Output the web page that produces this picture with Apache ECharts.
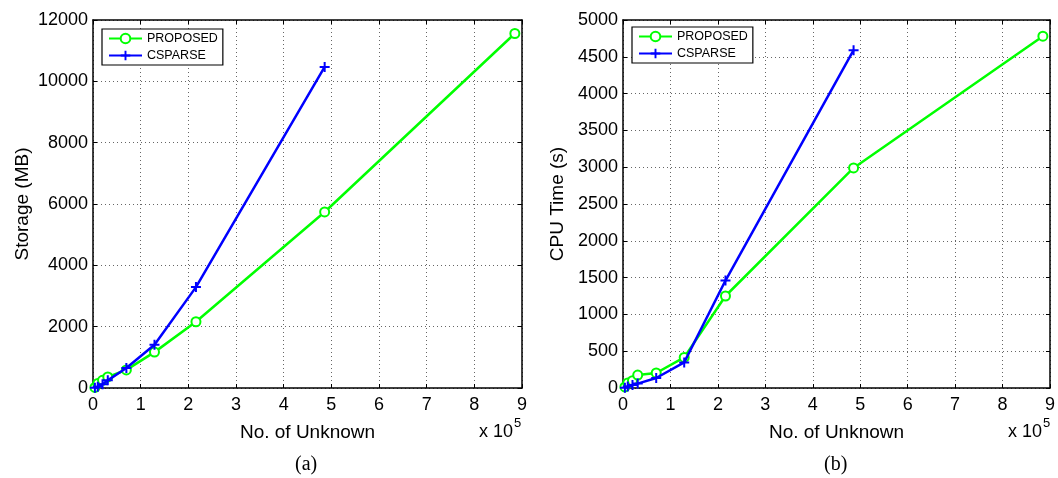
<!DOCTYPE html>
<html>
<head>
<meta charset="utf-8">
<script src="https://cdn.jsdelivr.net/npm/echarts@6/dist/echarts.min.js"></script>
<style>
html,body{margin:0;padding:0;background:#fff;}
#chart{width:1058px;height:478px;}
</style>
</head>
<body>
<div id="chart"></div>
<script>
// Number of unknowns (x 10^5)
const xUnknown = [0.04, 0.1, 0.2, 0.31, 0.7, 1.29, 2.16, 4.86, 8.85];
// Storage (MB)
const storageProposed = [20, 150, 250, 360, 590, 1170, 2160, 5740, 11560];
const storageCsparse  = [10, 40, 120, 250, 650, 1410, 3290, 10470];
// CPU time (s)
const cpuProposed = [14, 68, 100, 176, 204, 416, 1250, 2990, 4780];
const cpuCsparse  = [5, 20, 40, 60, 136, 348, 1460, 4590];
const xTicks = [0,1,2,3,4,5,6,7,8,9];
const seriesNames = ['PROPOSED', 'CSPARSE'];

const FONT = 'Liberation Sans, Arial, Helvetica, sans-serif';
const SERIF = 'Liberation Serif, Times New Roman, serif';
const GREEN = '#00ff00', BLUE = '#0000ff';
const PLUS = 'path://M4,0 L6,0 L6,4 L10,4 L10,6 L6,6 L6,10 L4,10 L4,6 L0,6 L0,4 L4,4 Z';

function pairs(vals){ return vals.map((v,i)=>[xUnknown[i], v]); }

const gridLine = {show:true, lineStyle:{color:'#666', width:1, type:[1,3]}};
const axisLineStyle = {show:true, onZero:false, lineStyle:{color:'#000', width:1.5}};
const tickIn = {show:true, inside:true, length:4, lineStyle:{color:'#000'}};

function xAxes(gi){
  return [
    {type:'value', gridIndex:gi, position:'bottom', min:0, max:9, interval:1,
     name:'No. of Unknown', nameLocation:'middle', nameGap:35,
     nameTextStyle:{fontFamily:FONT, fontSize:19, color:'#000'},
     axisLine:axisLineStyle, axisTick:tickIn, splitLine:gridLine,
     axisLabel:{fontFamily:FONT, fontSize:18, color:'#000', margin:8,
       formatter:(v)=> xTicks.includes(v) ? String(v) : ''}},
    {type:'value', gridIndex:gi, position:'top', min:0, max:9, interval:1,
     axisLine:axisLineStyle, axisTick:tickIn, splitLine:{show:false}, axisLabel:{show:false}}
  ];
}
function yAxes(gi, max, interval, name, gap){
  return [
    {type:'value', gridIndex:gi, position:'left', min:0, max:max, interval:interval,
     name:name, nameLocation:'middle', nameGap:gap, nameRotate:90,
     nameTextStyle:{fontFamily:FONT, fontSize:19, color:'#000'},
     axisLine:axisLineStyle, axisTick:tickIn, splitLine:gridLine,
     axisLabel:{fontFamily:FONT, fontSize:18, color:'#000', margin:5, formatter:(v)=>String(v)}},
    {type:'value', gridIndex:gi, position:'right', min:0, max:max, interval:interval,
     axisLine:axisLineStyle, axisTick:tickIn, splitLine:{show:false}, axisLabel:{show:false}}
  ];
}
function greenSeries(xi, yi, vals){
  return {name:seriesNames[0], type:'line', xAxisIndex:xi, yAxisIndex:yi, data:pairs(vals),
    symbol:'emptyCircle', symbolSize:9, showAllSymbol:true,
    lineStyle:{color:GREEN, width:2.5}, itemStyle:{color:GREEN, borderColor:GREEN, borderWidth:2.2},
    animation:false, z:3};
}
function blueSeries(xi, yi, vals){
  return {name:seriesNames[1], type:'line', xAxisIndex:xi, yAxisIndex:yi, data:pairs(vals),
    symbol:PLUS, symbolSize:10, showAllSymbol:true,
    lineStyle:{color:BLUE, width:2.5}, itemStyle:{color:BLUE, borderWidth:0},
    animation:false, z:4};
}
function legend(left, top){
  return {left:left, top:top, orient:'vertical', data:seriesNames,
    backgroundColor:'#fff', borderColor:'#000', borderWidth:1.2,
    padding:[3,5,3,6], itemGap:4, itemWidth:33, itemHeight:12,
    textStyle:{fontFamily:FONT, fontSize:12.5, color:'#000', lineHeight:13},
    selectedMode:false};
}
function expLabel(left){
  return {type:'text', left:left, top:417, style:{text:'{a|x 10}{b|5}', rich:{
      a:{fontFamily:FONT, fontSize:18, fill:'#000', verticalAlign:'bottom', lineHeight:24},
      b:{fontFamily:FONT, fontSize:13, fill:'#000', verticalAlign:'top', lineHeight:24, padding:[0,0,12,1]}}}};
}

const chart = echarts.init(document.getElementById('chart'), null, {renderer:'canvas'});
chart.setOption({
  animation:false,
  backgroundColor:'#fff',
  grid:[
    {left:93, right:536, top:20, bottom:90, containLabel:false},
    {left:623, right:6, top:20, bottom:90, containLabel:false}
  ],
  xAxis:[...xAxes(0), ...xAxes(1)],
  yAxis:[...yAxes(0, 12000, 2000, 'Storage (MB)', 61), ...yAxes(1, 5000, 500, 'CPU Time (s)', 56)],
  legend:[legend(102, 29), legend(632, 27)],
  series:[
    greenSeries(0, 0, storageProposed),
    blueSeries(0, 0, storageCsparse),
    greenSeries(2, 2, cpuProposed),
    blueSeries(2, 2, cpuCsparse)
  ],
  graphic:[
    expLabel(479),
    expLabel(1008),
    {type:'text', left:295, top:455, style:{text:'(a)', fontFamily:SERIF, fontSize:20, fill:'#000'}},
    {type:'text', left:824, top:455, style:{text:'(b)', fontFamily:SERIF, fontSize:20, fill:'#000'}}
  ]
});
</script>
</body>
</html>
